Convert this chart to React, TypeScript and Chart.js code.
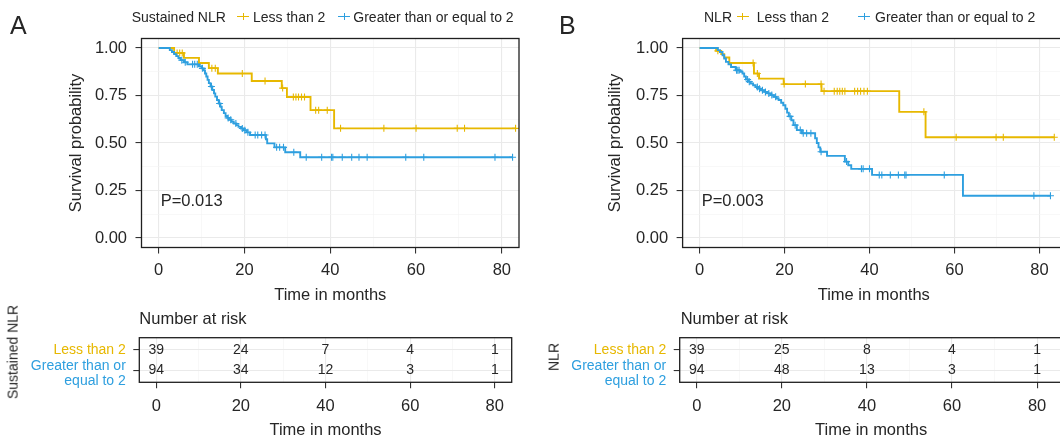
import React, { useEffect, useRef } from 'react';
import { Chart, registerables } from 'chart.js';

Chart.register(...registerables);

const FONT = "'Liberation Sans', Arial, Helvetica, sans-serif";
const TEXT = '#262626';
const YELLOW = '#E7B800';
const BLUE = '#2E9FDF';

// ---------------- Panel A (Sustained NLR) ----------------
const aLessTime = [0, 3.6, 5.9, 9.4, 11.7, 13.8, 21.7, 28.7, 29.9, 35.4, 40.9, 83.2];
const aLessSurv = [1, 0.974, 0.948, 0.921, 0.894, 0.866, 0.826, 0.789, 0.742, 0.673, 0.577, 0.577];
const aLessCensor = [4.3, 4.9, 5.5, 12.4, 13.2, 19.5, 24.8, 28.9, 31.4, 32.0, 32.6, 33.3, 34.0, 36.6, 37.3, 39.3, 42.4, 52.5, 60.0, 69.6, 71.3, 83.2];

const aGrTime = [0, 2.6, 3.1, 3.6, 4.1, 4.6, 5.1, 5.9, 6.7, 9.4, 10.0, 10.5, 10.8, 11.1, 11.4, 11.7, 12.1, 12.5, 12.9, 13.2, 13.6, 14.0, 14.4, 14.7, 15.2, 15.6, 16.0, 16.4, 17.0, 17.5, 18.1, 18.6, 19.2, 19.8, 20.5, 21.3, 25.0, 25.3, 27.0, 29.5, 33.0, 82.5];
const aGrSurv = [1, 0.989, 0.979, 0.968, 0.957, 0.947, 0.936, 0.925, 0.914, 0.904, 0.893, 0.882, 0.866, 0.85, 0.832, 0.815, 0.797, 0.779, 0.761, 0.744, 0.726, 0.708, 0.691, 0.673, 0.657, 0.642, 0.632, 0.622, 0.612, 0.603, 0.594, 0.585, 0.576, 0.567, 0.556, 0.542, 0.52, 0.498, 0.477, 0.451, 0.425, 0.425];
const aGrCensor = [5.4, 6.2, 7.9, 8.4, 9.0, 10.2, 12.3, 14.2, 16.2, 16.8, 18.0, 19.5, 20.1, 20.8, 22.5, 23.1, 24.0, 24.8, 27.5, 28.2, 29.1, 31.5, 34.4, 38.0, 40.3, 40.6, 42.8, 45.0, 46.7, 48.6, 57.6, 61.8, 78.4, 82.5];

// ---------------- Panel B (NLR) ----------------
const bLessTime = [0, 3.9, 5.1, 5.8, 7.0, 12.8, 14.0, 19.8, 28.7, 47.0, 53.2, 83.5];
const bLessSurv = [1, 0.985, 0.968, 0.95, 0.921, 0.866, 0.839, 0.81, 0.773, 0.664, 0.53, 0.53];
const bLessCensor = [4.3, 12.6, 13.6, 19.9, 24.9, 28.6, 29.3, 31.7, 32.4, 33.0, 33.6, 34.2, 36.5, 37.2, 37.9, 38.7, 39.5, 52.8, 60.4, 69.8, 71.5, 83.5];

const bGrTime = [0, 4.3, 4.8, 5.4, 5.8, 6.2, 6.8, 7.4, 8.5, 9.5, 10.1, 10.5, 10.9, 11.5, 12.0, 12.6, 13.2, 13.8, 14.4, 15.2, 15.9, 16.7, 17.5, 18.1, 18.6, 19.2, 19.7, 20.2, 20.6, 21.0, 21.6, 22.1, 22.9, 24.1, 27.2, 27.6, 28.0, 28.4, 30.0, 34.2, 35.0, 35.7, 40.6, 62.0, 82.6];
const bGrSurv = [1, 0.989, 0.979, 0.962, 0.945, 0.927, 0.914, 0.9, 0.883, 0.875, 0.866, 0.85, 0.834, 0.823, 0.813, 0.804, 0.795, 0.786, 0.778, 0.769, 0.761, 0.752, 0.743, 0.734, 0.726, 0.712, 0.699, 0.68, 0.66, 0.64, 0.62, 0.594, 0.568, 0.551, 0.525, 0.5, 0.477, 0.454, 0.432, 0.402, 0.383, 0.364, 0.332, 0.222, 0.222];
const bGrCensor = [8.7, 9.0, 9.3, 11.3, 11.7, 13.6, 14.1, 14.8, 15.5, 16.3, 17.0, 17.9, 21.3, 22.5, 23.7, 24.4, 25.2, 26.2, 28.6, 34.6, 38.1, 38.5, 40.0, 42.3, 42.9, 44.9, 46.8, 48.3, 48.6, 57.6, 78.7, 82.6];

// ---------------- Risk tables ----------------
const riskTimes = [0, 20, 40, 60, 80];
const aRiskLess = [39, 24, 7, 4, 1];
const aRiskGreater = [94, 34, 12, 3, 1];
const bRiskLess = [39, 25, 8, 4, 1];
const bRiskGreater = [94, 48, 13, 3, 1];

// ---------------- Labels ----------------
const xTickLabels = ['0', '20', '40', '60', '80'];
const yTickLabels = ['0.00', '0.25', '0.50', '0.75', '1.00'];
const groupNames = ['Less than 2', 'Greater than or equal to 2'];
const riskRowLabels = [['Less than 2'], ['Greater than or', 'equal to 2']];
const aStrata = 'Sustained NLR';
const bStrata = 'NLR';
const aPValue = 'P=0.013';
const bPValue = 'P=0.003';
const xTitle = 'Time in months';
const yTitle = 'Survival probability';
const riskTitle = 'Number at risk';

// ---------------- helpers ----------------
const xMajor = xTickLabels.map(Number);
const yMajor = yTickLabels.map(Number);
const withMinor = (major: number[]) => {
  const out: number[] = [];
  major.forEach((v, i) => {
    out.push(v);
    if (i < major.length - 1) out.push((v + major[i + 1]) / 2);
  });
  return out;
};
const idxIn = (arr: number[], v: number) => arr.findIndex((m) => Math.abs(m - v) < 1e-9);

function survAt(times: number[], surv: number[], t: number) {
  let s = surv[0];
  for (let i = 0; i < times.length; i++) if (times[i] <= t) s = surv[i];
  return s;
}

const framePlugin = {
  id: 'frame',
  afterDraw(chart: any) {
    const { ctx, chartArea: a } = chart;
    ctx.save();
    ctx.strokeStyle = '#1f1f1f';
    ctx.lineWidth = 1.3;
    ctx.strokeRect(a.left, a.top, a.right - a.left, a.bottom - a.top);
    ctx.restore();
  },
};

function gridOf(major: number[]) {
  const isMajor = (c: any) => c.tick && idxIn(major, c.tick.value) >= 0;
  return {
    drawTicks: true,
    tickLength: 6,
    tickWidth: 1.1,
    color: (c: any) => (isMajor(c) ? '#EAEAEA' : '#F4F4F4'),
    lineWidth: (c: any) => (isMajor(c) ? 1.1 : 0.6),
    tickColor: (c: any) => (isMajor(c) ? '#333333' : 'rgba(0,0,0,0)'),
  };
}

function xScale(xMax: number, height: number, tickPad: number, titlePad: number) {
  return {
    type: 'linear',
    min: -4,
    max: xMax,
    afterBuildTicks: (s: any) => {
      s.ticks = withMinor(xMajor).map((v) => ({ value: v }));
    },
    afterFit: (s: any) => {
      s.height = height;
    },
    border: { display: false },
    grid: gridOf(xMajor),
    ticks: {
      autoSkip: false,
      maxRotation: 0,
      minRotation: 0,
      padding: tickPad,
      color: TEXT,
      font: { family: FONT, size: 16.5 },
      callback: (v: number) => {
        const i = idxIn(xMajor, v);
        return i >= 0 ? xTickLabels[i] : '';
      },
    },
    title: {
      display: true,
      text: xTitle,
      color: TEXT,
      font: { family: FONT, size: 16.5 },
      padding: { top: 0, bottom: titlePad },
    },
  };
}

function kmConfig(spec: any) {
  const datasets: any[] = [];
  spec.curves.forEach((c: any) => {
    datasets.push({
      data: c.time.map((t: number, i: number) => ({ x: t, y: c.surv[i] })),
      borderColor: c.color,
      borderWidth: 1.9,
      stepped: true,
      pointRadius: 0,
      fill: false,
    });
    datasets.push({
      data: c.censor.map((t: number) => ({ x: t, y: survAt(c.time, c.surv, t) })),
      showLine: false,
      pointStyle: 'cross',
      pointRadius: 3.5,
      pointBorderWidth: 1.1,
      borderColor: c.color,
      backgroundColor: c.color,
    });
  });
  return {
    type: 'line',
    data: { datasets },
    options: {
      responsive: false,
      animation: false,
      events: [],
      layout: { padding: { left: 0, top: 38.5, right: spec.padRight, bottom: 0 } },
      plugins: { legend: { display: false }, tooltip: { enabled: false } },
      scales: {
        x: xScale(spec.xMax, 62.5, 7.4, 5.1),
        y: {
          type: 'linear',
          min: -0.05,
          max: 1.05,
          afterBuildTicks: (s: any) => {
            s.ticks = withMinor(yMajor).map((v) => ({ value: v }));
          },
          afterFit: (s: any) => {
            s.width = spec.yWidth;
          },
          border: { display: false },
          grid: gridOf(yMajor),
          ticks: {
            autoSkip: false,
            padding: 8.5,
            color: TEXT,
            font: { family: FONT, size: 16.5 },
            callback: (v: number) => {
              const i = idxIn(yMajor, v);
              return i >= 0 ? yTickLabels[i] : '';
            },
          },
          title: {
            display: true,
            text: yTitle,
            color: TEXT,
            font: { family: FONT, size: 16.5 },
            padding: { top: spec.yTitlePad, bottom: 0 },
          },
        },
      },
    },
    plugins: [framePlugin],
  };
}

const ROW2_LABEL_SHIFT = 0.185;

function riskConfig(spec: any) {
  const rows = [spec.less, spec.greater];
  const numbersPlugin = {
    id: 'riskNumbers',
    afterDatasetsDraw(chart: any) {
      const { ctx } = chart;
      const x = chart.scales.x;
      const y = chart.scales.y;
      ctx.save();
      ctx.font = `14px ${FONT}`;
      ctx.fillStyle = TEXT;
      ctx.textAlign = 'center';
      ctx.textBaseline = 'middle';
      rows.forEach((row: number[], r: number) => {
        row.forEach((n, j) => {
          ctx.fillText(String(n), x.getPixelForValue(riskTimes[j]), y.getPixelForValue(r));
        });
      });
      ctx.restore();
    },
  };
  const isRow = (c: any) => c.tick && (c.tick.value === 0 || c.tick.value === 1);
  return {
    type: 'line',
    data: { datasets: [] },
    options: {
      responsive: false,
      animation: false,
      events: [],
      layout: { padding: { left: 0, top: 37.7, right: spec.padRight, bottom: 0 } },
      plugins: { legend: { display: false }, tooltip: { enabled: false } },
      scales: {
        x: xScale(spec.xMax, 57.7, 8.3, 0),
        y: {
          type: 'linear',
          min: -0.6,
          max: 1.6,
          reverse: true,
          afterBuildTicks: (s: any) => {
            s.ticks = [{ value: 0 }, { value: 1 }, { value: 1 + ROW2_LABEL_SHIFT }];
          },
          afterFit: (s: any) => {
            s.width = spec.yWidth;
          },
          border: { display: false },
          grid: {
            drawTicks: true,
            tickLength: 6,
            tickWidth: 1.1,
            lineWidth: 1.1,
            color: (c: any) => (isRow(c) ? '#EAEAEA' : 'rgba(0,0,0,0)'),
            tickColor: (c: any) => (isRow(c) ? '#333333' : 'rgba(0,0,0,0)'),
          },
          ticks: {
            autoSkip: false,
            padding: 7.5,
            font: { family: FONT, size: 14, lineHeight: 1.05 },
            color: (c: any) => (c.tick && c.tick.value === 0 ? YELLOW : BLUE),
            callback: (v: number) => {
              if (v === 0) return riskRowLabels[0];
              if (Math.abs(v - 1 - ROW2_LABEL_SHIFT) < 1e-9) return riskRowLabels[1];
              return '';
            },
          },
        },
      },
    },
    plugins: [framePlugin, numbersPlugin],
  };
}

// ---------------- HTML text helpers ----------------
const Txt = ({ x, y, size, color = TEXT, children, rotate = false }: any) => (
  <div
    style={{
      position: 'absolute',
      left: x,
      top: y,
      fontFamily: FONT,
      fontSize: size,
      lineHeight: 1.2,
      color,
      whiteSpace: 'nowrap',
      transform: rotate ? 'translate(-50%, -50%) rotate(-90deg)' : 'translateY(-50%)',
    }}
  >
    {children}
  </div>
);

const Key = ({ x, y, color }: any) => (
  <>
    <div style={{ position: 'absolute', left: x, top: y - 0.75, width: 12, height: 1.5, background: color }} />
    <div style={{ position: 'absolute', left: x + 5.5, top: y - 3.5, width: 1.1, height: 7, background: color }} />
  </>
);

export default function App() {
  const kmA = useRef<HTMLCanvasElement>(null);
  const kmB = useRef<HTMLCanvasElement>(null);
  const rkA = useRef<HTMLCanvasElement>(null);
  const rkB = useRef<HTMLCanvasElement>(null);

  useEffect(() => {
    const charts = [
      new Chart(
        kmA.current as any,
        kmConfig({
          curves: [
            { time: aGrTime, surv: aGrSurv, censor: aGrCensor, color: BLUE },
            { time: aLessTime, surv: aLessSurv, censor: aLessCensor, color: YELLOW },
          ],
          xMax: 84,
          yWidth: 141.5,
          yTitlePad: 66.1,
          padRight: 11,
        }) as any
      ),
      new Chart(
        kmB.current as any,
        kmConfig({
          curves: [
            { time: bGrTime, surv: bGrSurv, censor: bGrCensor, color: BLUE },
            { time: bLessTime, surv: bLessSurv, censor: bLessCensor, color: YELLOW },
          ],
          xMax: 86,
          yWidth: 152.6,
          yTitlePad: 75.1,
          padRight: 1,
        }) as any
      ),
      new Chart(
        rkA.current as any,
        riskConfig({ less: aRiskLess, greater: aRiskGreater, xMax: 84, yWidth: 139.3, padRight: 18.3 }) as any
      ),
      new Chart(
        rkB.current as any,
        riskConfig({ less: bRiskLess, greater: bRiskGreater, xMax: 86, yWidth: 149.7, padRight: 7.4 }) as any
      ),
    ];
    return () => charts.forEach((c) => c.destroy());
  }, []);

  return (
    <div
      style={{
        position: 'absolute',
        left: 0,
        top: 0,
        width: 1060,
        height: 440,
        overflow: 'hidden',
        background: '#ffffff',
      }}
    >
      <canvas ref={kmA} width={530} height={310} style={{ position: 'absolute', left: 0, top: 0 }} />
      <canvas ref={kmB} width={540} height={310} style={{ position: 'absolute', left: 530, top: 0 }} />
      <canvas ref={rkA} width={530} height={140} style={{ position: 'absolute', left: 0, top: 300 }} />
      <canvas ref={rkB} width={540} height={140} style={{ position: 'absolute', left: 530, top: 300 }} />

      {/* panel letters */}
      <Txt x={10} y={24.5} size={25}>A</Txt>
      <Txt x={559} y={25} size={25}>B</Txt>

      {/* legends */}
      <Txt x={131.7} y={16.7} size={14}>{aStrata}</Txt>
      <Key x={237} y={16.7} color={YELLOW} />
      <Txt x={253} y={16.7} size={14}>{groupNames[0]}</Txt>
      <Key x={338} y={16.7} color={BLUE} />
      <Txt x={353.3} y={16.7} size={14}>{groupNames[1]}</Txt>

      <Txt x={704} y={16.7} size={14}>{bStrata}</Txt>
      <Key x={736.7} y={16.7} color={YELLOW} />
      <Txt x={756.7} y={16.7} size={14}>{groupNames[0]}</Txt>
      <Key x={858.3} y={16.7} color={BLUE} />
      <Txt x={875} y={16.7} size={14}>{groupNames[1]}</Txt>

      {/* p-values */}
      <Txt x={160.7} y={200.8} size={16.5}>{aPValue}</Txt>
      <Txt x={701.7} y={200.8} size={16.5}>{bPValue}</Txt>

      {/* risk table titles */}
      <Txt x={139.3} y={319.2} size={16.5}>{riskTitle}</Txt>
      <Txt x={680.7} y={319.2} size={16.5}>{riskTitle}</Txt>
      <Txt x={13.2} y={351.7} size={14} rotate>{aStrata}</Txt>
      <Txt x={554.2} y={357.3} size={14} rotate>{bStrata}</Txt>
    </div>
  );
}
